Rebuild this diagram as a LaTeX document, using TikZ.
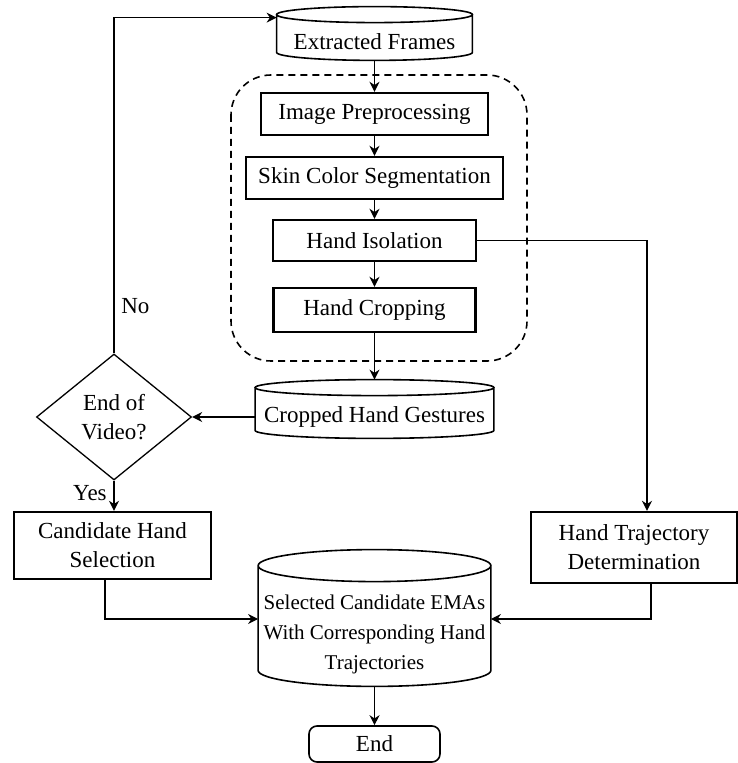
\documentclass[tikz,border=0pt]{standalone}
\usepackage{fontspec}
\setmainfont{Liberation Serif}
\usetikzlibrary{shapes.geometric,arrows.meta,calc}

\tikzset{
    proc/.style={draw, line width=1.2pt, minimum width=#1, minimum height=21pt, inner sep=2pt, align=center},
    proc/.default=100pt,
    store/.style={minimum width=#1, inner sep=1pt, align=center},
    store/.default=100pt,
    link/.style={->, line width=0.65pt},
    >={Stealth[length=5pt,width=5pt]}
}

\begin{document}
\begin{tikzpicture}[x=0.5pt, y=0.5pt, font=\fontsize{11.5}{14.5}\selectfont]
    \useasboundingbox (0,0) rectangle (737,-763);

    % dashed group round the hand steps
    \draw[line width=0.8pt, dash pattern=on 3.5pt off 2.5pt, rounded corners=20pt] (231,-75) rectangle (527,-361);

    % main column
    \node[store=97.5pt, minimum height=18.5pt] (ef) at (374.5,-41.5) {Extracted Frames};
    \node[proc=113.5pt] (ip) at (374.5,-114) {Image Preprocessing};
    \node[proc=128.5pt] (scs) at (374.5,-178) {Skin Color Segmentation};
    \node[proc=101.5pt, minimum height=20.5pt] (hi) at (374.5,-240.5) {Hand Isolation};
    \node[proc=101pt, minimum height=22pt] (hc) at (374.5,-310) {Hand Cropping};
    \node[store=119pt, minimum height=21pt] (chg) at (374.5,-417) {Cropped Hand Gestures};

    % decision
    \node[draw, diamond, line width=0.65pt, minimum width=77.5pt, minimum height=63pt, inner sep=0pt, align=center] (dia) at (114,-417) {End of\\Video?};

    % lower row
    \node[proc=98.5pt, minimum height=33.5pt] (chs) at (112.5,-545.5) {Candidate Hand\\Selection};
    \node[proc=103pt, minimum height=35.5pt] (htd) at (634,-547.5) {Hand Trajectory\\Determination};
    \node[store=116pt, minimum height=52pt, font=\fontsize{10.5}{15}\selectfont] (sc) at (374.5,-634) {Selected Candidate EMAs\\With Corresponding Hand\\Trajectories};
    \node[draw, rounded corners=4pt, line width=0.8pt, minimum width=65.5pt, minimum height=18pt] (end) at (374.5,-744) {End};

    % cylinder outlines round the store nodes
    \foreach \cyl/\cry in {ef/4pt, chg/4pt, sc/8pt}{
        \draw[line width=0.8pt] let \p1=(\cyl.north west), \p2=(\cyl.south east), \n1={(\x2-\x1)/2} in
            (\x1,\y1+\cry) -- (\x1,\y2+\cry)
            arc[start angle=180, end angle=360, x radius=\n1, y radius=\cry]
            -- (\x2,\y1+\cry)
            (\x1+\n1,\y1+\cry) ellipse[x radius=\n1, y radius=\cry];
    }

    % connectors
    \draw[link] (ef) -- (ip);
    \draw[link] (ip) -- (scs);
    \draw[link] (scs) -- (hi);
    \draw[link] (hi) -- (hc);
    \draw[link] (hc) -- ([yshift=8pt]chg.north);
    \draw[link] (chg) -- (dia);
    \draw[link] (dia.north) |- ([yshift=2.5pt]ef.north west) node[pos=0.07, right] {No};
    \draw[link] (dia.south) -- (dia.south |- chs.north) node[pos=0.4, left] {Yes};
    \draw[link] (hi.east) -| ([xshift=6.5pt]htd.north);
    \draw[link] ([xshift=-3.75pt]chs.south) |- ([yshift=7.5pt]sc.west);
    \draw[link] ([xshift=8.5pt]htd.south) |- ([yshift=7.5pt]sc.east);
    \draw[link] (sc) -- (end);

\end{tikzpicture}
\end{document}
